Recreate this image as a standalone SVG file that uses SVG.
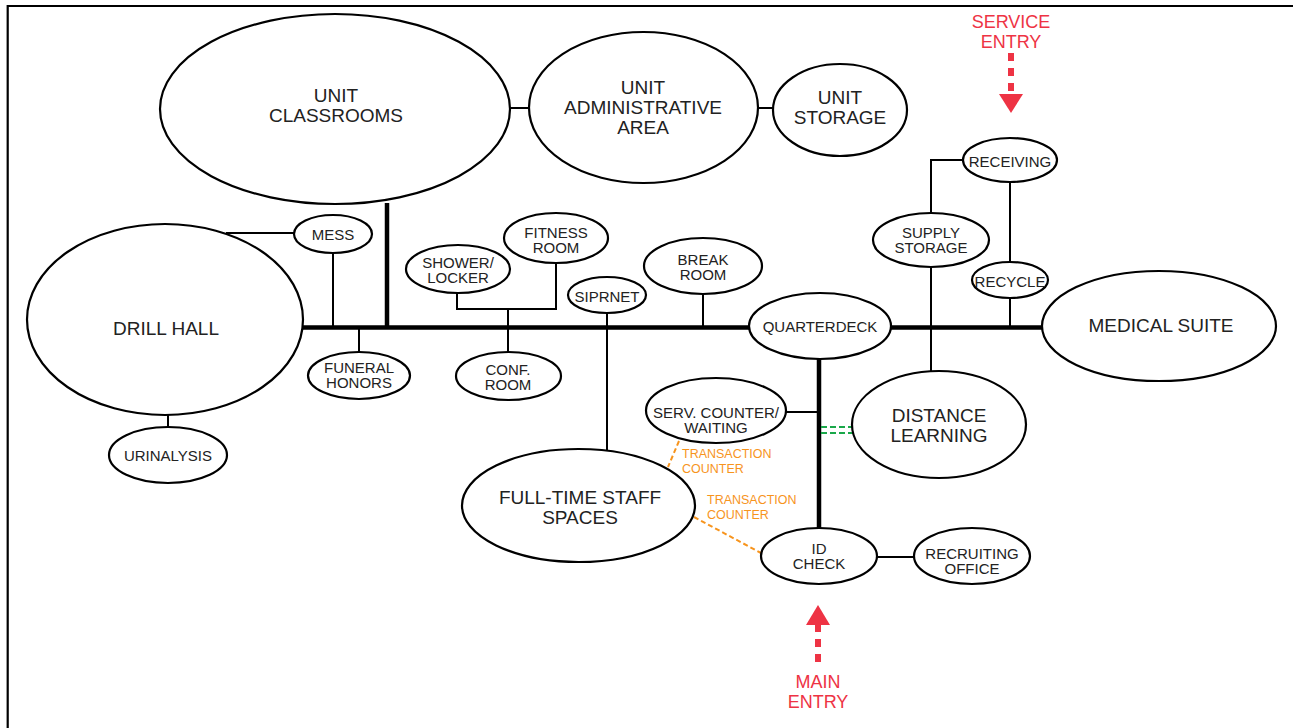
<svg xmlns="http://www.w3.org/2000/svg" width="1293" height="728" viewBox="0 0 1293 728">
<style>
.n{fill:#fff;stroke:#000;stroke-width:2.2}
.t{font-family:"Liberation Sans",Arial,sans-serif;fill:#222;text-anchor:middle;dominant-baseline:central}
.b{font-size:19px}
.s{font-size:15px}
.thin{stroke:#000;stroke-width:2;fill:none}
.thick{stroke:#000;stroke-width:4.5;fill:none}
.or{stroke:#f7941d;stroke-width:2;stroke-dasharray:5 3;fill:none}
.gr{stroke:#1aa84a;stroke-width:2;stroke-dasharray:6 3;fill:none}
.red{stroke:#ee3344;stroke-width:6;stroke-dasharray:8 7;fill:none}
.ot{font-family:"Liberation Sans",Arial,sans-serif;font-size:12.5px;fill:#f7941d;dominant-baseline:central}
.rt{font-family:"Liberation Sans",Arial,sans-serif;font-size:18px;fill:#ee3344;text-anchor:middle;dominant-baseline:central}
</style>
<rect width="1293" height="728" fill="#fff"/>
<path d="M7.7 728V6H1293" stroke="#000" stroke-width="2.2" fill="none"/>
<g id="connectors">
<path class="thick" d="M300 327.5H750M890 327.5H1044"/>
<path class="thick" d="M387 203V327.5"/>
<path class="thick" d="M819 358V529"/>
<path class="thin" d="M226 233H295M333 252V327.5M359 327.5V352"/>
<path class="thin" d="M457 292V309H556V262M508 309V353"/>
<path class="thin" d="M607 312V450M703 293V327.5"/>
<path class="thin" d="M510 108H530M757 108H773"/>
<path class="thin" d="M964 160H931V214M931 267V373M1010 182V263M1010 297V327.5"/>
<path class="thin" d="M786 412H819M877 557H915M168 415V428"/>
<path class="gr" d="M821 427H853M821 433H853"/>
<path class="or" d="M679 441L668 467M694 517L761 553"/>
<path class="red" d="M1011 53V95"/>
<polygon points="999,94 1023,94 1011,113" fill="#ee3344"/>
<path class="red" d="M818 624V668"/>
<polygon points="806,625 830,625 818,605" fill="#ee3344"/>
</g>
<g id="unit-classrooms"><ellipse class="n" cx="335" cy="109" rx="175" ry="95"/><text class="t b" x="336" y="95">UNIT</text><text class="t b" x="336" y="115">CLASSROOMS</text></g>
<g id="unit-admin"><ellipse class="n" cx="643.5" cy="107.5" rx="114.5" ry="75.5"/><text class="t b" x="643" y="87">UNIT</text><text class="t b" x="643" y="107">ADMINISTRATIVE</text><text class="t b" x="643" y="127">AREA</text></g>
<g id="unit-storage"><ellipse class="n" cx="840" cy="110" rx="67" ry="46"/><text class="t b" x="840" y="97">UNIT</text><text class="t b" x="840" y="117">STORAGE</text></g>
<g id="drill-hall"><ellipse class="n" cx="165" cy="319.5" rx="138" ry="95.5"/><text class="t b" x="166" y="328">DRILL HALL</text></g>
<g id="mess"><ellipse class="n" cx="333" cy="234" rx="39" ry="19"/><text class="t s" x="333" y="234">MESS</text></g>
<g id="shower-locker"><ellipse class="n" cx="458" cy="269" rx="52" ry="24"/><text class="t s" x="458" y="262">SHOWER/</text><text class="t s" x="458" y="277">LOCKER</text></g>
<g id="fitness-room"><ellipse class="n" cx="556" cy="238" rx="52" ry="25"/><text class="t s" x="556" y="232">FITNESS</text><text class="t s" x="556" y="247">ROOM</text></g>
<g id="siprnet"><ellipse class="n" cx="607" cy="295" rx="39" ry="18"/><text class="t s" x="607" y="296">SIPRNET</text></g>
<g id="break-room"><ellipse class="n" cx="703" cy="266" rx="59" ry="28"/><text class="t s" x="703" y="259">BREAK</text><text class="t s" x="703" y="274">ROOM</text></g>
<g id="funeral-honors"><ellipse class="n" cx="359" cy="375.5" rx="51" ry="23.5"/><text class="t s" x="359" y="367">FUNERAL</text><text class="t s" x="359" y="382">HONORS</text></g>
<g id="conf-room"><ellipse class="n" cx="508.5" cy="376" rx="52.5" ry="24"/><text class="t s" x="508" y="369">CONF.</text><text class="t s" x="508" y="384">ROOM</text></g>
<g id="urinalysis"><ellipse class="n" cx="168" cy="455" rx="59" ry="28"/><text class="t s" x="168" y="455">URINALYSIS</text></g>
<g id="quarterdeck"><ellipse class="n" cx="820" cy="326" rx="71" ry="33"/><text class="t s" x="820" y="326">QUARTERDECK</text></g>
<g id="receiving"><ellipse class="n" cx="1010" cy="160" rx="47" ry="22"/><text class="t s" x="1010" y="161">RECEIVING</text></g>
<g id="supply-storage"><ellipse class="n" cx="931" cy="240" rx="58" ry="27"/><text class="t s" x="931" y="232">SUPPLY</text><text class="t s" x="931" y="247">STORAGE</text></g>
<g id="recycle"><ellipse class="n" cx="1010" cy="280" rx="38" ry="18"/><text class="t s" x="1010" y="281">RECYCLE</text></g>
<g id="medical-suite"><ellipse class="n" cx="1159" cy="326" rx="117" ry="55"/><text class="t b" x="1161" y="325">MEDICAL SUITE</text></g>
<g id="serv-counter"><ellipse class="n" cx="716" cy="410.5" rx="70" ry="32.5"/><text class="t s" x="716" y="412">SERV. COUNTER/</text><text class="t s" x="716" y="427">WAITING</text></g>
<g id="distance-learning"><ellipse class="n" cx="939" cy="424.5" rx="87" ry="53.5"/><text class="t b" x="939" y="415">DISTANCE</text><text class="t b" x="939" y="435">LEARNING</text></g>
<g id="full-time-staff"><ellipse class="n" cx="578.5" cy="505.5" rx="116.5" ry="56.5"/><text class="t b" x="580" y="497">FULL-TIME STAFF</text><text class="t b" x="580" y="517">SPACES</text></g>
<g id="id-check"><ellipse class="n" cx="819" cy="556" rx="58" ry="28"/><text class="t s" x="819" y="548">ID</text><text class="t s" x="819" y="563">CHECK</text></g>
<g id="recruiting-office"><ellipse class="n" cx="972" cy="556" rx="58" ry="28"/><text class="t s" x="972" y="553">RECRUITING</text><text class="t s" x="972" y="568">OFFICE</text></g>
<g id="labels">
<text class="ot" x="682" y="454">TRANSACTION</text><text class="ot" x="682" y="469">COUNTER</text>
<text class="ot" x="707" y="500">TRANSACTION</text><text class="ot" x="707" y="515">COUNTER</text>
<text class="rt" x="1011" y="22">SERVICE</text><text class="rt" x="1011" y="42">ENTRY</text>
<text class="rt" x="818" y="682">MAIN</text><text class="rt" x="818" y="702">ENTRY</text>
</g>
</svg>
